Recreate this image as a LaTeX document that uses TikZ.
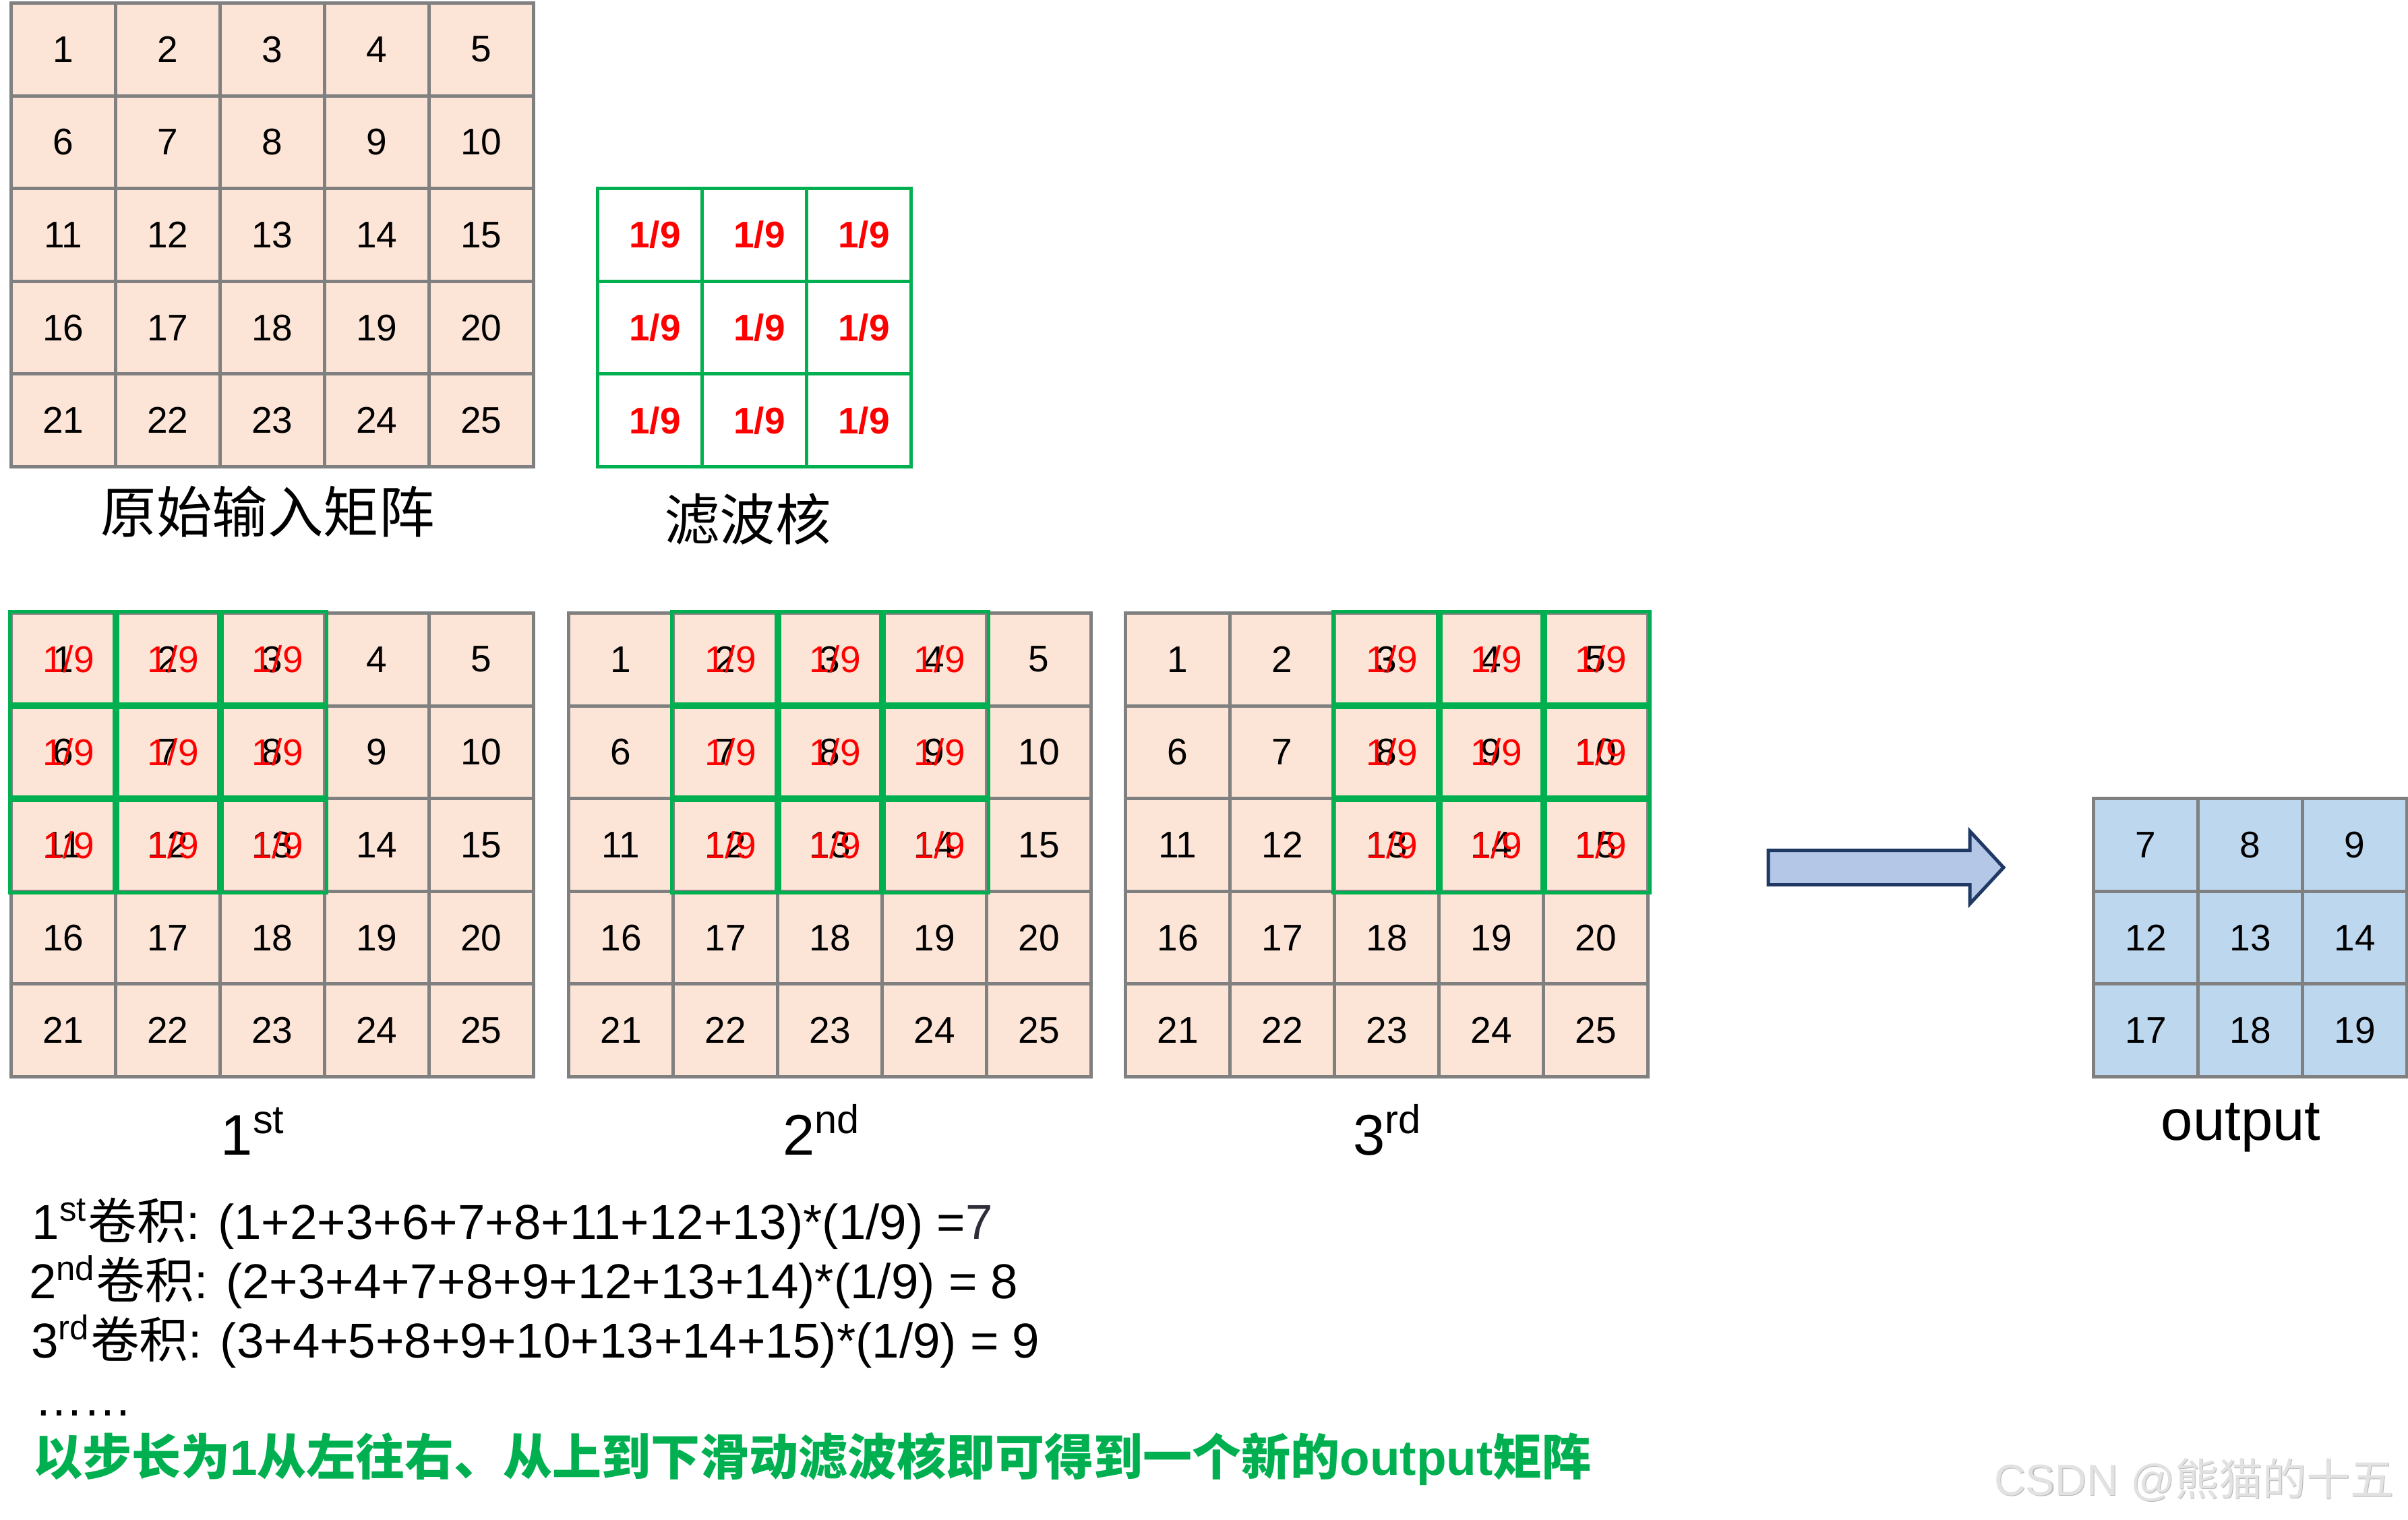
\documentclass[tikz,border=0pt]{standalone}
\usepackage{fontspec}
\setmainfont{Liberation Sans}
\newfontfamily\cjk{Noto Sans CJK SC}
\definecolor{cellbg}{HTML}{FCE4D6}
\definecolor{outbg}{HTML}{BDD7EE}
\definecolor{kgreen}{HTML}{00B050}
\definecolor{arrowbg}{HTML}{B4C7E7}
\definecolor{arrowline}{HTML}{1F3864}
\definecolor{marklight}{HTML}{E2E2E2}
\definecolor{markshade}{HTML}{B8B8B8}
\definecolor{darkseven}{HTML}{2E2E38}
\tikzset{
	cell/.style={draw=gray, line width=1pt, fill=cellbg, minimum width=31pt, minimum height=27.52pt, inner sep=0pt, anchor=north west, font=\fontsize{11}{13}\selectfont},
	kcell/.style={cell, draw=kgreen, fill=white, text=red, font=\fontsize{11}{13}\selectfont\bfseries},
	ocell/.style={cell, fill=outbg},
	frame/.style={draw=kgreen, line width=1pt},
	weight/.style={text=red, inner sep=0pt, xshift=1.5pt, font=\fontsize{11}{13}\selectfont},
	caption/.style={inner sep=0pt, anchor=base, font=\fontsize{17}{20}\selectfont},
	cjkcaption/.style={inner sep=0pt, font=\cjk\fontsize{16.5}{20}\selectfont},
	sumline/.style={inner sep=0pt, anchor=base west, font=\fontsize{14.55}{17}\selectfont}
}
\begin{document}
\begin{tikzpicture}
				\fill[white] (0,0) rectangle (714.4pt,450.8pt);
				\useasboundingbox (0,0) rectangle (714.4pt,450.8pt);
				\foreach \r in {0,...,4}
					\foreach \c in {0,...,4} {
						\pgfmathtruncatemacro{\n}{5*\r+\c+1}
						\node[cell] (in-\n) at ({2.8pt+\c*31pt},{450.4pt-\r*27.52pt}) {\n};
					}
				\foreach \r in {0,1,2}
					\foreach \c in {0,1,2} {
						\pgfmathtruncatemacro{\n}{3*\r+\c+1}
						\node[kcell] (ker-\n) at ({176.8pt+\c*31pt},{395.36pt-\r*27.52pt}) {\hspace*{3pt}1/9};
					}
				\node[cjkcaption] (in-name) at (79.4pt,299pt) {原始输入矩阵};
				\node[cjkcaption] (ker-name) at (221.8pt,296.8pt) {滤波核};
				\foreach \m/\x in {1/2.8pt,2/168.2pt,3/333.4pt} {
					\foreach \r in {0,...,4}
						\foreach \c in {0,...,4} {
							\pgfmathtruncatemacro{\n}{5*\r+\c+1}
							\node[cell] (win\m-\n) at ({\x+\c*31pt},{269.4pt-\r*27.52pt}) {\n};
						}
					\foreach \r in {0,1,2}
						\foreach \c in {1,2,3} {
							\pgfmathtruncatemacro{\n}{5*\r+\c+\m-1}
							\draw[frame] (win\m-\n.north west) rectangle (win\m-\n.south east);
							\node[weight] (w\m-\n) at (win\m-\n) {1/9};
						}
				}
				\node[caption] (cap1) at (75.2pt,108.2pt) {1\textsuperscript{st}};
				\node[caption] (cap2) at (243.8pt,108.2pt) {2\textsuperscript{nd}};
				\node[caption] (cap3) at (411.8pt,108.2pt) {3\textsuperscript{rd}};
				\draw[fill=arrowbg, draw=arrowline, line width=1pt] (524.6pt,188.3pt) -- (584.4pt,188.3pt) -- (584.4pt,182.6pt) -- (594.4pt,193.4pt) -- (584.4pt,204.2pt) -- (584.4pt,198.5pt) -- (524.6pt,198.5pt) -- cycle;
				\foreach \r in {0,1,2}
					\foreach \c in {0,1,2} {
						\pgfmathtruncatemacro{\n}{5*\r+\c+7}
						\node[ocell] (out-\n) at ({620.6pt+\c*31pt},{214.36pt-\r*27.52pt}) {\n};
					}
				\node[caption] (out-name) at (664.8pt,112.6pt) {output};
				\node[sumline] (sum1) at (9.4pt,83.2pt) {1\textsuperscript{st}{\cjk 卷积}: (1+2+3+6+7+8+11+12+13)*(1/9) =\textcolor{darkseven}{7}};
				\node[sumline] (sum2) at (8.4pt,65.6pt) {2\textsuperscript{nd}{\cjk 卷积}: (2+3+4+7+8+9+12+13+14)*(1/9) = 8};
				\node[sumline] (sum3) at (9pt,48pt) {3\textsuperscript{rd}{\cjk 卷积}: (3+4+5+8+9+10+13+14+15)*(1/9) = 9};
				\node[sumline] (dots) at (10pt,30.8pt) {……};
				\node[sumline, text=kgreen, font=\fontsize{14.6}{17}\selectfont\bfseries] (rule) at (9.6pt,13.2pt) {{\cjk 以步长为}1{\cjk 从左往右、从上到下滑动滤波核即可得到一个新的}output{\cjk 矩阵}};
				\node[inner sep=0pt, anchor=base west, text=markshade, font=\fontsize{13}{15}\selectfont] (mark-shade) at (591.7pt,6.9pt) {CSDN @{\cjk 熊猫的十五}};
				\node[inner sep=0pt, anchor=base west, text=marklight, font=\fontsize{13}{15}\selectfont] (mark) at (591.4pt,7.2pt) {CSDN @{\cjk 熊猫的十五}};
			\end{tikzpicture}
\end{document}
